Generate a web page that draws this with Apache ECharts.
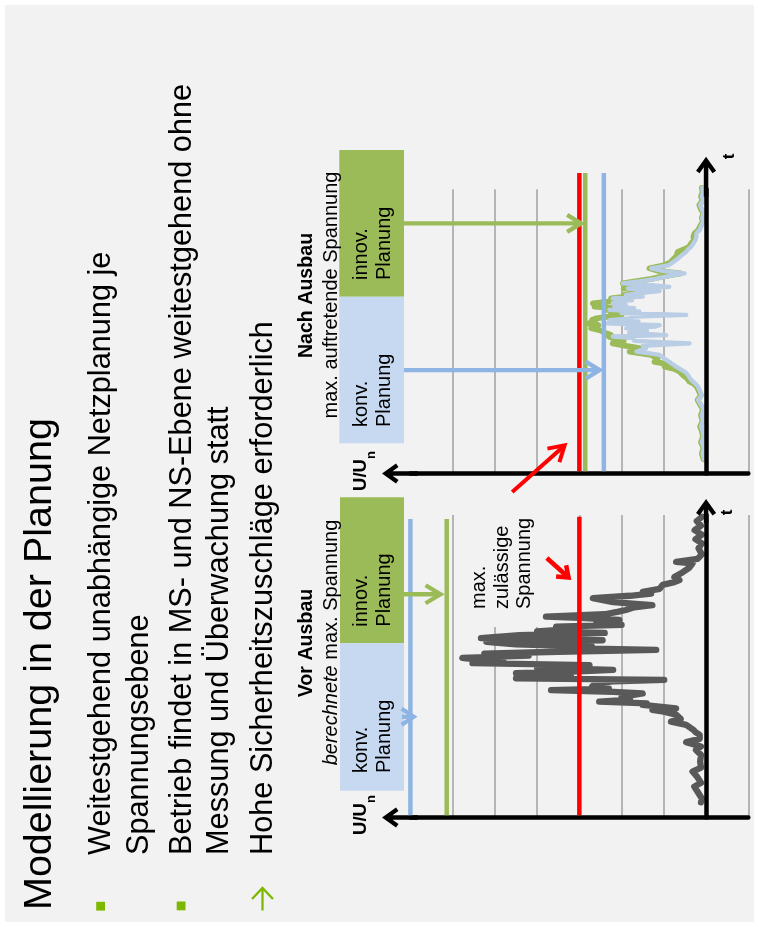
<!DOCTYPE html>
<html>
<head>
<meta charset="utf-8">
<title>Modellierung in der Planung</title>
<script src="https://cdn.jsdelivr.net/npm/echarts@6.0.0/dist/echarts.min.js"></script>
<style>
html, body { margin: 0; padding: 0; background: #ffffff; }
#chart { width: 759px; height: 927px; }
</style>
</head>
<body>
<div id="chart"></div>
<script>
// ---------------------------------------------------------------------------
// Data: voltage U/Un (relative steps, 0 = time axis) over time t (0..100)
// ---------------------------------------------------------------------------

// "Vor Ausbau" - computed voltage profile
const vorTime = [5, 6.3, 8.5, 10.2, 11.5, 13.6, 15.2, 16.5, 18.5, 20.7, 22.3, 23.5, 24.9, 26, 27.3, 28.2, 29, 30.6, 31.7, 32.6,
  34, 35, 35.6, 36.1, 37.2, 37.7, 38.3, 39, 39.9, 41, 41.5, 42.1, 42.6, 43.3, 44.4, 45, 45.5, 46, 46.8, 47.7,
  48.3, 48.8, 49.5, 50.4, 51, 51.8, 52.6, 52.8, 53.5, 54.2, 54.8, 55.4, 56, 56.5, 57.2, 58.1, 58.6, 59.3, 60.3, 61,
  61.5, 62.2, 63.1, 63.7, 64.3, 65.3, 66, 66.4, 67.2, 68, 68.6, 69.5, 70.2, 71.2, 72.5, 73.3, 74, 74.6, 75.6, 76.9,
  77.8, 78.5, 79.5, 81, 82.5, 84, 84.5, 85.5, 87, 89, 90.6, 92, 93.5, 95, 96.5, 98, 99.4];
const vorVoltage = [0.12, 0.10, 0.20, 0.28, 0.12, 0.22, 0.32, 0.12, 0.14, 0.12, 0.24, 0.12, 0.47, 0.15, 0.15, 0.25, 0.30, 0.47, 0.83, 0.60,
  0.71, 1.00, 1.27, 0.71, 1.50, 1.40, 2.53, 1.80, 2.00, 1.50, 2.20, 3.67, 2.30, 2.70, 2.60, 2.20, 0.99, 4.50, 3.20, 4.50,
  3.00, 2.20, 4.00, 2.76, 5.53, 4.80, 5.68, 5.77, 4.20, 5.25, 3.50, 1.18, 3.30, 2.70, 4.50, 5.20, 2.45, 5.33, 4.42, 2.40,
  4.00, 3.30, 3.55, 2.00, 2.60, 2.05, 3.00, 3.79, 2.40, 2.10, 1.90, 1.70, 1.27, 2.20, 2.68, 1.80, 1.30, 1.50, 1.10, 1.03,
  0.75, 0.63, 0.75, 0.56, 0.40, 0.32, 0.71, 0.20, 0.10, 0.18, 0.10, 0.25, 0.10, 0.27, 0.12, 0.22, 0.10];

// "Nach Ausbau" - occurring voltage with innovative / conventional planning
const nachTime = [5, 7, 9, 11, 13, 15, 16.5, 18.5, 20.5, 22.5, 24, 25.9, 27.5, 29.4, 30.6, 31.7, 32.3, 33.5, 34.7, 35.8,
  36.8, 37.6, 38.5, 39.3, 40.5, 41.7, 42.9, 44, 44.9, 45.8, 46.7, 47.6, 48.2, 48.7, 49.5, 50.3, 51.1, 51.7, 52.2, 52.8,
  53.5, 54, 54.6, 55.2, 55.8, 56.4, 57, 57.6, 58.2, 58.7, 59.3, 59.9, 60.5, 61, 61.6, 62.2, 62.8, 63.4, 64.2, 65.1,
  65.7, 66.3, 66.9, 67.8, 68.5, 69.3, 70.4, 71.2, 72.2, 73.2, 74.2, 75.1, 76.5, 78, 79, 79.8, 81, 82.2, 83.3, 84.5,
  85.7, 87, 88.5, 90, 91.5, 93, 94.5, 96, 97.5, 99, 100.5];
const nachInnov = [0.06, 0.10, 0.06, 0.12, 0.07, 0.10, 0.14, 0.08, 0.12, 0.07, 0.13, 0.20, 0.12, 0.18, 0.22, 0.30, 0.39, 0.45, 0.55, 0.62,
  0.75, 0.98, 0.90, 1.22, 1.15, 1.30, 1.81, 1.55, 1.90, 2.21, 1.95, 2.21, 2.30, 2.25, 2.40, 2.50, 2.72, 2.60, 2.55, 2.80,
  2.62, 2.70, 2.60, 2.30, 2.00, 2.25, 1.90, 2.35, 2.20, 2.64, 2.40, 2.68, 2.30, 2.00, 2.25, 1.90, 1.95, 1.77, 1.40, 1.95,
  1.20, 1.60, 1.97, 1.60, 1.30, 1.05, 0.60, 1.10, 1.34, 1.00, 0.85, 0.79, 0.70, 0.67, 0.50, 0.40, 0.35, 0.28, 0.30, 0.27,
  0.18, 0.14, 0.08, 0.10, 0.06, 0.12, 0.16, 0.08, 0.12, 0.08, 0.10];
const nachKonv = [0.05, 0.08, 0.05, 0.10, 0.06, 0.08, 0.12, 0.07, 0.10, 0.06, 0.11, 0.19, 0.10, 0.16, 0.19, 0.26, 0.31, 0.38, 0.43, 0.50,
  0.62, 0.71, 0.80, 0.87, 1.00, 1.10, 1.65, 1.42, 1.50, 0.39, 1.70, 1.73, 2.21, 0.94, 1.82, 1.40, 1.89, 1.20, 1.10, 2.37,
  1.60, 2.29, 1.80, 1.70, 0.47, 2.00, 1.58, 2.29, 1.70, 2.17, 1.90, 2.21, 2.10, 1.75, 2.21, 1.50, 1.90, 1.65, 1.10, 1.85,
  0.87, 1.30, 1.97, 1.50, 1.20, 0.95, 0.51, 1.00, 1.30, 0.90, 0.80, 0.71, 0.60, 0.47, 0.42, 0.35, 0.30, 0.25, 0.23, 0.23,
  0.15, 0.12, 0.07, 0.09, 0.05, 0.10, 0.14, 0.07, 0.10, 0.07, 0.09];

// Limit levels: [max. zulässige Spannung, innov. Planung, konv. Planung]
const vorLimits = [3.0, 6.14, 7.0];
const nachLimits = [3.0, 2.86, 2.42];

// Voltage axis range and grid step: [min, max, step]
const voltageRange = [-1, 7, 1];
// Time axis range
const timeRange = [0, 100];

// ---------------------------------------------------------------------------
// Styling
// ---------------------------------------------------------------------------
const FONT = '"Liberation Sans", Arial, Helvetica, sans-serif';
const COL = {
  text: '#000000',
  slide: '#f2f2f2',
  grid: '#a0a0a0',
  profile: '#595959',
  red: '#ff0000',
  green: '#9bbb59',
  blue: '#8db4e2',
  lightBlue: '#b9cde5',
  boxBlue: '#c6d9f1',
  bullet: '#7cb800'
};
const BASE_MID = 0.34; // distance alphabetic baseline -> text middle, in em

// Open arrow head with a shaft underneath, pointing up, 20 px wide
function chevron(len) {
  const k = 10.55;
  return 'path://M10,0 L20,14 L16.5,16.5 L12.25,' + k + ' L12.25,' + len + ' L7.75,' + len +
    ' L7.75,' + k + ' L3.5,16.5 L0,14 Z';
}

function voltageAxis(gridIndex) {
  return {
    type: 'value', gridIndex: gridIndex,
    min: voltageRange[0], max: voltageRange[1], interval: voltageRange[2],
    inverse: true,
    axisLine: {
      show: true, onZero: true,
      lineStyle: { color: '#000', width: 4.5 },
      symbol: [chevron(36), 'none'], symbolSize: [20, 36], symbolOffset: [-10.4, 0]
    },
    axisTick: { show: false },
    axisLabel: { show: false },
    splitLine: { show: true, showMinLine: true, showMaxLine: false, lineStyle: { color: COL.grid, width: 1.5 } },
    z: 0
  };
}

function timeAxis(gridIndex, arrowLen, arrowOffset) {
  return {
    type: 'value', gridIndex: gridIndex,
    min: timeRange[0], max: timeRange[1],
    axisLine: {
      show: true, onZero: true,
      lineStyle: { color: '#000', width: 4.5 },
      symbol: ['none', chevron(arrowLen)], symbolSize: [20, arrowLen], symbolOffset: [0, arrowOffset]
    },
    axisTick: { show: false },
    axisLabel: { show: false },
    splitLine: { show: false },
    z: 5
  };
}

function profileSeries(gridIndex, volts, times, color, width) {
  return {
    type: 'line', xAxisIndex: gridIndex, yAxisIndex: gridIndex,
    data: volts.map(function (u, i) { return [u, times[i]]; }),
    symbol: 'none', clip: false, silent: true, z: 2,
    lineStyle: { color: color, width: width, cap: 'round', join: 'round' }
  };
}

// vertical limit line, drawn up from the voltage axis
function limitSeries(gridIndex, value, color, tFrom, tTo) {
  return {
    type: 'line', xAxisIndex: gridIndex, yAxisIndex: gridIndex,
    data: [[value, tFrom], [value, tTo]],
    symbol: 'none', clip: false, silent: true, z: 3,
    lineStyle: { color: color, width: 4.5, cap: 'butt' }
  };
}

const chart = echarts.init(document.getElementById('chart'), null, { renderer: 'canvas', width: 759, height: 927 });

chart.setOption({
  backgroundColor: '#ffffff',
  animation: false,
  grid: [
    { left: 410.4, right: 10.7, top: 515, height: 302.5 },   // Vor Ausbau
    { left: 410.4, right: 10.7, top: 189.3, height: 284.2 }  // Nach Ausbau
  ],
  xAxis: [voltageAxis(0), voltageAxis(1)],
  yAxis: [timeAxis(0, 24, 4), timeAxis(1, 40, 12.6)],
  series: [
    profileSeries(0, vorVoltage, vorTime, COL.profile, 6.3),
    limitSeries(0, vorLimits[0], COL.red, 0.75, 99.4),
    limitSeries(0, vorLimits[1], COL.green, 0.75, 98.7),
    limitSeries(0, vorLimits[2], COL.blue, 0.75, 98.7),
    profileSeries(1, nachInnov, nachTime, COL.green, 5.8),
    profileSeries(1, nachKonv, nachTime, COL.lightBlue, 4.3),
    limitSeries(1, nachLimits[0], COL.red, 0.8, 105.7),
    limitSeries(1, nachLimits[1], COL.green, 0.8, 105.7),
    limitSeries(1, nachLimits[2], COL.blue, 0.8, 105.7)
  ]
});

// ---------------------------------------------------------------------------
// Slide text, boxes and annotation arrows
// ---------------------------------------------------------------------------
function px(gridIndex, u, t) {
  return chart.convertToPixel({ gridIndex: gridIndex }, [u, t]);
}

// text turned a quarter turn, reading bottom to top; x = baseline position
function vText(baseX, y, text, size, opts) {
  opts = opts || {};
  const align = opts.align || 'left';
  const style = {
    text: text, fontSize: size, fontFamily: FONT,
    fontWeight: opts.weight || 'normal', fontStyle: opts.italic ? 'italic' : 'normal',
    fill: opts.color || COL.text,
    align: align, textAlign: align, verticalAlign: 'middle', textVerticalAlign: 'middle'
  };
  if (opts.rich) style.rich = opts.rich;
  return { type: 'text', x: baseX - BASE_MID * size, y: y, rotation: Math.PI / 2, z: 20, silent: true, style: style };
}

function rect(x, y, w, h, fill, z) {
  return { type: 'rect', shape: { x: x, y: y, width: w, height: h }, style: { fill: fill }, z: z, silent: true };
}

// straight arrow with an open head; p1 is the visible tip
function arrow(p0, p1, color, width, headLen, headHalf) {
  const dx = p1[0] - p0[0], dy = p1[1] - p0[1];
  const L = Math.hypot(dx, dy);
  const ux = dx / L, uy = dy / L, nx = -uy, ny = ux;
  const sinA = headHalf / Math.hypot(headHalf, headLen);
  const back = (width / 2) / sinA;
  const vx = p1[0] - ux * back, vy = p1[1] - uy * back;
  const bx = vx - ux * headLen, by = vy - uy * headLen;
  return [
    { type: 'polyline', z: 12, silent: true,
      shape: { points: [[p0[0], p0[1]], [vx - ux * 1.5, vy - uy * 1.5]] },
      style: { stroke: color, lineWidth: width, fill: null, lineCap: 'butt' } },
    { type: 'polyline', z: 12, silent: true,
      shape: { points: [[bx + nx * headHalf, by + ny * headHalf], [vx, vy], [bx - nx * headHalf, by - ny * headHalf]] },
      style: { stroke: color, lineWidth: width, fill: null, lineJoin: 'miter', lineCap: 'butt' } }
  ];
}

const els = [];

// slide background
els.push(rect(5, 5, 749, 917, COL.slide, -100));

// title and bullets
els.push(vText(53.3, 910, 'Modellierung in der Planung', 39.5));
const bulletSize = 30.7;
els.push(vText(111.7, 855, 'Weitestgehend unabhängige Netzplanung je', bulletSize));
els.push(vText(149.7, 855, 'Spannungsebene', bulletSize));
els.push(vText(192.7, 855, 'Betrieb findet in MS- und NS-Ebene weitestgehend ohne', bulletSize));
els.push(vText(230.0, 855, 'Messung und Überwachung statt', bulletSize));
els.push(vText(274.0, 855, 'Hohe Sicherheitszuschläge erforderlich', bulletSize));
els.push(rect(96.2, 901.8, 8.8, 8.8, COL.bullet, 20));
els.push(rect(176.7, 901.5, 8.8, 8.8, COL.bullet, 20));
els.push({ type: 'polyline', z: 20, silent: true, shape: { points: [[262.5, 910.5], [262.5, 888]] },
  style: { stroke: COL.bullet, lineWidth: 2.3, fill: null } });
els.push({ type: 'polyline', z: 20, silent: true, shape: { points: [[252, 899], [262.5, 888], [273, 899]] },
  style: { stroke: COL.bullet, lineWidth: 2.3, fill: null, lineJoin: 'miter' } });

// chart headings
els.push(vText(313.3, 295.5, 'Nach Ausbau', 19.6, { align: 'center', weight: 'bold' }));
els.push(vText(338.3, 295.0, 'max. auftretende Spannung', 20, { align: 'center' }));
els.push(vText(313.3, 643.0, 'Vor Ausbau', 19.6, { align: 'center', weight: 'bold' }));
els.push(vText(338.3, 642.5, '{i|berechnete} {r|max. Spannung}', 20, {
  align: 'center',
  rich: {
    i: { fontSize: 20, fontFamily: FONT, fontStyle: 'italic', fill: COL.text },
    r: { fontSize: 20, fontFamily: FONT, fill: COL.text }
  }
}));

// planning boxes
els.push(rect(339.3, 150.0, 64.7, 146.7, COL.green, 10));
els.push(rect(339.3, 296.7, 64.7, 146.6, COL.boxBlue, 10));
els.push(rect(340.0, 497.3, 64.0, 146.0, COL.green, 10));
els.push(rect(340.0, 643.3, 64.0, 147.4, COL.boxBlue, 10));
[[280.0, 'innov.'], [427.0, 'konv.'], [626.7, 'innov.'], [773.0, 'konv.']].forEach(function (b) {
  els.push(vText(368.3, b[0], b[1], 20));
  els.push(vText(391.5, b[0], 'Planung', 20));
});

// axis captions
[[835, 803], [491, 459]].forEach(function (p) {
  els.push(vText(367.0, p[0], 'U/U', 18.6, { weight: 'bold' }));
  els.push(vText(375.5, p[1], 'n', 13, { weight: 'bold' }));
});
els.push(vText(733.0, 512.5, 't', 17, { align: 'center', weight: 'bold' }));
els.push(vText(735.0, 156.5, 't', 17, { align: 'center', weight: 'bold' }));

// caption of the permissible voltage, on a plain backing
els.push(rect(466, 508, 84, 119, COL.slide, 1));
els.push(vText(486.0, 609, 'max.', 20));
els.push(vText(509.0, 609, 'zulässige', 20));
els.push(vText(531.5, 609, 'Spannung', 20));

// pointer arrows from the planning boxes to their limit lines
const boxEdge = 404;
(function () {
  let y = px(1, 0, 88.0)[1];
  els.push.apply(els, arrow([boxEdge, y], [px(1, nachLimits[1], 0)[0], y], COL.green, 4.3, 14, 8.5));
  y = px(1, 0, 36.4)[1];
  els.push.apply(els, arrow([boxEdge, y], [px(1, nachLimits[2], 0)[0], y], COL.blue, 4.3, 14, 8.5));
  y = px(0, 0, 73.8)[1];
  els.push.apply(els, arrow([boxEdge, y], [px(0, vorLimits[1], 0)[0] - 2, y], COL.green, 4.3, 15, 9));
  y = px(0, 0, 33.3)[1];
  els.push.apply(els, arrow([boxEdge - 2, y], [px(0, 6.83, 0)[0], y], COL.blue, 4.3, 12, 8));
})();

// red markers at the permissible voltage
els.push.apply(els, arrow(px(1, 4.59, -6.5), px(1, 3.28, 10.8), COL.red, 4, 15, 9));
els.push.apply(els, arrow(px(0, 3.77, 85.8), px(0, 3.19, 78.5), COL.red, 4.5, 10, 7.5));

chart.setOption({ graphic: { elements: els } });
</script>
</body>
</html>
